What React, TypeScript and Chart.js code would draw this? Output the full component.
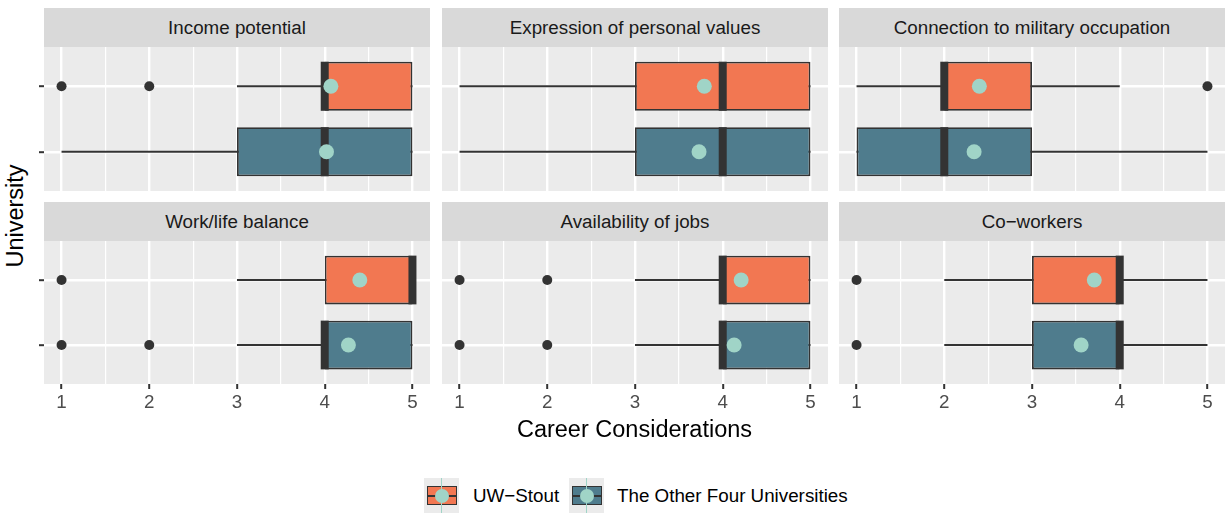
import React, { useEffect, useRef } from 'react';
import { Chart, registerables } from 'chart.js';

Chart.register(...registerables);

// ---------------- data ----------------
const PANELS = [
  'Income potential',
  'Expression of personal values',
  'Connection to military occupation',
  'Work/life balance',
  'Availability of jobs',
  'Co\u2212workers',
];
const SERIES = ['UW\u2212Stout', 'The Other Four Universities'];

// UW-Stout boxplot statistics per panel
const STOUT_LOW = [3, 1, 1, 3, 3, 2];
const STOUT_Q1 = [4, 3, 2, 4, 4, 3];
const STOUT_MED = [4, 4, 2, 5, 4, 4];
const STOUT_Q3 = [5, 5, 3, 5, 5, 4];
const STOUT_HIGH = [5, 5, 4, 5, 5, 5];
const STOUT_MEAN = [4.07, 3.79, 2.4, 4.4, 4.21, 3.71];
const STOUT_OUTLIERS = [[1, 2], [], [5], [1], [1, 2], [1]];

// The Other Four Universities boxplot statistics per panel
const OTHER_LOW = [1, 1, 1, 3, 3, 2];
const OTHER_Q1 = [3, 3, 1, 4, 4, 3];
const OTHER_MED = [4, 4, 2, 4, 4, 4];
const OTHER_Q3 = [5, 5, 3, 5, 5, 4];
const OTHER_HIGH = [5, 5, 5, 5, 5, 5];
const OTHER_MEAN = [4.02, 3.73, 2.34, 4.27, 4.13, 3.56];
const OTHER_OUTLIERS = [[], [], [], [1, 2], [1, 2], [1]];

const X_BREAKS = [1, 2, 3, 4, 5];
const X_LIMITS = [0.8, 5.2];
const Y_LIMITS = [0.4, 2.6];

// ---------------- styles ----------------
const FONT = '"Liberation Sans", Arial, Helvetica, sans-serif';
const SERIES_FILL = ['#F27752', '#4F7C8D'];
const MEAN_COLOR = '#A0D4C7';
const DARK = '#333333';
const PANEL_BG = '#EBEBEB';
const STRIP_BG = '#D9D9D9';
const BOX_WIDTH = 0.75;

const COL_LEFTS = [44, 442, 839];
const COL_WIDTH = 386;
const STRIP_TOPS = [8, 202];
const STRIP_H = 39;
const PLOT_TOPS = [47, 241];
const PLOT_HEIGHTS = [144, 143];
const AXIS_LEFT = 8;
const AXIS_BOTTOM = 34;

const STATS = [
  { low: STOUT_LOW, q1: STOUT_Q1, med: STOUT_MED, q3: STOUT_Q3, high: STOUT_HIGH, mean: STOUT_MEAN, out: STOUT_OUTLIERS },
  { low: OTHER_LOW, q1: OTHER_Q1, med: OTHER_MED, q3: OTHER_Q3, high: OTHER_HIGH, mean: OTHER_MEAN, out: OTHER_OUTLIERS },
];

const MINOR_BREAKS = X_BREAKS.slice(1).map((v, i) => (v + X_BREAKS[i]) / 2);
const ALL_BREAKS = [...X_BREAKS, ...MINOR_BREAKS].sort((a, b) => a - b);
const isMajor = (v: number) => X_BREAKS.includes(v);

const panelBg = {
  id: 'panelBg',
  beforeDraw(chart: any) {
    const { ctx, chartArea: a } = chart;
    ctx.save();
    ctx.fillStyle = PANEL_BG;
    ctx.fillRect(a.left, a.top, a.right - a.left, a.bottom - a.top);
    ctx.restore();
  },
};

function Panel({ idx, row, col }: { idx: number; row: number; col: number }) {
  const ref = useRef<HTMLCanvasElement>(null);
  const bottomRow = row === 1;
  const leftCol = col === 0;
  const plotH = PLOT_HEIGHTS[row];
  const axisB = bottomRow ? AXIS_BOTTOM : 0;
  const w = COL_WIDTH + AXIS_LEFT;
  const h = plotH + axisB;

  useEffect(() => {
    const datasets: any[] = [];
    const medianRadius = (c: any) => {
      const s = c.chart.scales.y;
      return Math.abs(s.getPixelForValue(1 + BOX_WIDTH / 2) - s.getPixelForValue(1));
    };
    STATS.forEach((s, i) => {
      const y = i + 1;
      datasets.push({
        type: 'scatter',
        showLine: true,
        data: [{ x: s.low[idx], y }, { x: s.high[idx], y }],
        borderColor: DARK,
        borderWidth: 1.8,
        pointRadius: 0,
        clip: false,
        order: 50,
      });
      datasets.push({
        type: 'bar',
        indexAxis: 'y',
        data: [{ x: [s.q1[idx], s.q3[idx]], y }],
        backgroundColor: SERIES_FILL[i],
        borderColor: DARK,
        borderWidth: 1.8,
        borderSkipped: false,
        grouped: false,
        barPercentage: BOX_WIDTH,
        categoryPercentage: 1,
        clip: false,
        order: 40,
      });
      datasets.push({
        type: 'scatter',
        data: [{ x: s.med[idx], y }],
        pointStyle: 'line',
        pointRotation: 90,
        pointRadius: medianRadius,
        pointBorderWidth: 8,
        pointBorderColor: DARK,
        clip: false,
        order: 30,
      });
      datasets.push({
        type: 'scatter',
        data: s.out[idx].map((x) => ({ x, y })),
        pointRadius: 5,
        pointBackgroundColor: DARK,
        pointBorderWidth: 0,
        clip: false,
        order: 20,
      });
      datasets.push({
        type: 'scatter',
        data: [{ x: s.mean[idx], y }],
        pointRadius: 7.5,
        pointBackgroundColor: MEAN_COLOR,
        pointBorderWidth: 0,
        clip: false,
        order: 10,
      });
    });

    const chart = new Chart(ref.current as HTMLCanvasElement, {
      type: 'scatter',
      data: { datasets },
      plugins: [panelBg],
      options: {
        animation: false,
        responsive: false,
        maintainAspectRatio: false,
        events: [],
        layout: { padding: 0, autoPadding: false },
        plugins: { legend: { display: false }, tooltip: { enabled: false }, title: { display: false } },
        scales: {
          x: {
            type: 'linear',
            position: 'bottom',
            min: X_LIMITS[0],
            max: X_LIMITS[1],
            offset: false,
            beginAtZero: false,
            afterBuildTicks: (s: any) => {
              s.ticks = ALL_BREAKS.map((v) => ({ value: v }));
            },
            afterFit: (s: any) => {
              s.height = axisB;
              s.paddingLeft = 0;
              s.paddingRight = 0;
            },
            border: { display: false },
            grid: {
              offset: false,
              color: '#FFFFFF',
              lineWidth: (c: any) => (c.tick && isMajor(c.tick.value) ? 2.4 : 1.2),
              drawTicks: bottomRow,
              tickLength: 5,
              tickWidth: 2,
              tickColor: (c: any) => (c.tick && isMajor(c.tick.value) ? DARK : 'rgba(0,0,0,0)'),
            },
            ticks: {
              display: bottomRow,
              autoSkip: false,
              maxRotation: 0,
              minRotation: 0,
              padding: 3,
              color: '#4D4D4D',
              font: { family: FONT, size: 18.8 },
              callback: (v: any) => (isMajor(Number(v)) ? String(v) : ''),
            },
          },
          y: {
            type: 'linear',
            position: 'left',
            min: Y_LIMITS[0],
            max: Y_LIMITS[1],
            reverse: true,
            offset: false,
            beginAtZero: false,
            afterBuildTicks: (s: any) => {
              s.ticks = SERIES.map((_, i) => ({ value: i + 1 }));
            },
            afterFit: (s: any) => {
              s.width = AXIS_LEFT;
              s.paddingTop = 0;
              s.paddingBottom = 0;
            },
            border: { display: false },
            grid: {
              offset: false,
              color: '#FFFFFF',
              lineWidth: 2.4,
              drawTicks: leftCol,
              tickLength: 5,
              tickWidth: 2,
              tickColor: DARK,
            },
            ticks: { display: false },
          },
        },
      } as any,
    } as any);
    return () => chart.destroy();
  }, [idx, row, col]);

  return (
    <>
      <div
        style={{
          position: 'absolute',
          left: COL_LEFTS[col],
          top: STRIP_TOPS[row],
          width: COL_WIDTH,
          height: STRIP_H,
          background: STRIP_BG,
          color: '#1A1A1A',
          fontFamily: FONT,
          fontSize: 18.8,
          lineHeight: `${STRIP_H}px`,
          textAlign: 'center',
          whiteSpace: 'nowrap',
        }}
      >
        {PANELS[idx]}
      </div>
      <canvas
        ref={ref}
        width={w}
        height={h}
        style={{ position: 'absolute', left: COL_LEFTS[col] - AXIS_LEFT, top: PLOT_TOPS[row], width: w, height: h }}
      />
    </>
  );
}

function LegendKey({ color }: { color: string }) {
  return (
    <div style={{ position: 'relative', width: 35, height: 35, background: '#EBEBEB', flex: '0 0 auto' }}>
      <div
        style={{
          position: 'absolute',
          left: 3,
          top: 8,
          width: 30,
          height: 19,
          background: color,
          border: `1.8px solid ${DARK}`,
          boxSizing: 'border-box',
        }}
      />
      <div style={{ position: 'absolute', left: 3, top: 16.5, width: 30, height: 2.5, background: DARK }} />
      <div style={{ position: 'absolute', left: 16.75, top: 0, width: 1.5, height: 35, background: MEAN_COLOR }} />
      <div
        style={{
          position: 'absolute',
          left: 10.5,
          top: 10.5,
          width: 14,
          height: 14,
          borderRadius: '50%',
          background: MEAN_COLOR,
        }}
      />
    </div>
  );
}

export default function App() {
  const textStyle: React.CSSProperties = { fontFamily: FONT, whiteSpace: 'nowrap', position: 'absolute' };
  const legendLefts = [424, 569];
  const legendTextLefts = [473, 617];
  return (
    <div
      style={{
        position: 'fixed',
        left: 0,
        top: 0,
        width: 1225,
        height: 514,
        background: '#FFFFFF',
        overflow: 'hidden',
      }}
    >
      {PANELS.map((_, i) => (
        <Panel key={i} idx={i} row={Math.floor(i / 3)} col={i % 3} />
      ))}
      <div
        style={{
          ...textStyle,
          left: 15,
          top: 215.5,
          fontSize: 23.5,
          color: '#000',
          transform: 'translate(-50%, -50%) rotate(-90deg)',
          lineHeight: '28px',
        }}
      >
        University
      </div>
      <div
        style={{
          ...textStyle,
          left: COL_LEFTS[0],
          width: COL_LEFTS[2] + COL_WIDTH - COL_LEFTS[0],
          top: 415,
          lineHeight: '28px',
          fontSize: 23.5,
          color: '#000',
          textAlign: 'center',
        }}
      >
        Career Considerations
      </div>
      {SERIES.map((name, i) => (
        <React.Fragment key={name}>
          <div style={{ position: 'absolute', left: legendLefts[i], top: 478 }}>
            <LegendKey color={SERIES_FILL[i]} />
          </div>
          <div
            style={{
              ...textStyle,
              left: legendTextLefts[i],
              top: 481.5,
              lineHeight: '28px',
              fontSize: 18.8,
              color: '#000',
            }}
          >
            {name}
          </div>
        </React.Fragment>
      ))}
    </div>
  );
}
